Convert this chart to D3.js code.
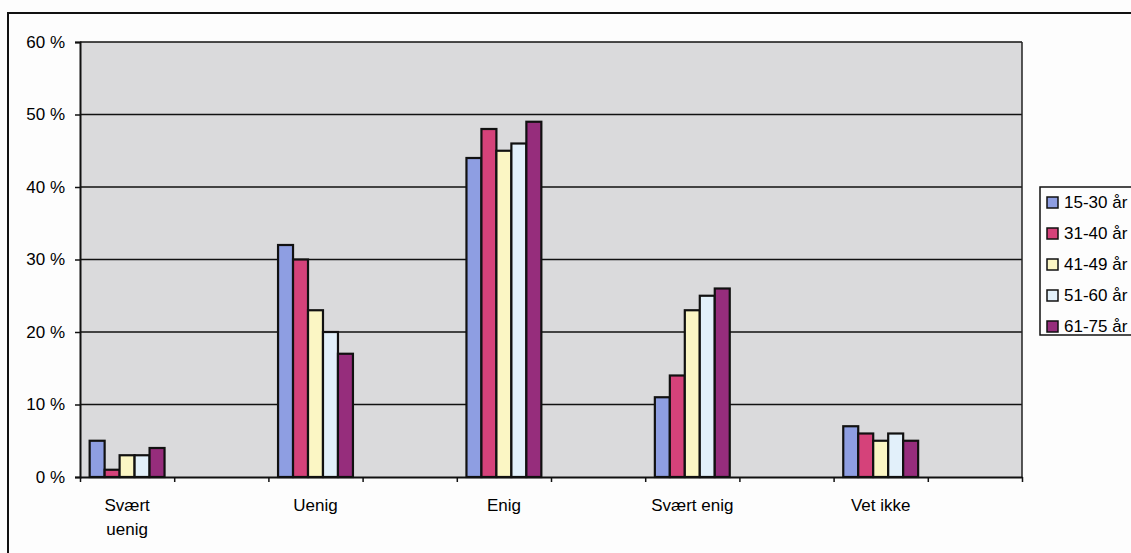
<!DOCTYPE html>
<html><head><meta charset="utf-8">
<script src="https://cdn.jsdelivr.net/npm/d3@7/dist/d3.min.js"></script>
<style>
html,body{margin:0;padding:0;background:#fdfdfd;}
svg{display:block;}
text{font-family:"Liberation Sans",Arial,sans-serif;fill:#000;}
</style></head>
<body>
<svg id="chart" width="1131" height="553"></svg>
<script>
const categories = ["Svært uenig", "Uenig", "Enig", "Svært enig", "Vet ikke"];
const seriesNames = ["15-30 år", "31-40 år", "41-49 år", "51-60 år", "61-75 år"];
const s15_30 = [5, 32, 44, 11, 7];
const s31_40 = [1, 30, 48, 14, 6];
const s41_49 = [3, 23, 45, 23, 5];
const s51_60 = [3, 20, 46, 25, 6];
const s61_75 = [4, 17, 49, 26, 5];
const yTicks = [0, 10, 20, 30, 40, 50, 60];
const colors = ["#8e9ee2", "#d5427a", "#fbf6c4", "#e2f0fa", "#962d7c"];

const series = [s15_30, s31_40, s41_49, s51_60, s61_75];
const svg = d3.select("#chart");

// outer frame
svg.append("rect").attr("x", 8).attr("y", 13).attr("width", 1200).attr("height", 600)
  .attr("fill", "#fdfdfd").attr("stroke", "#111").attr("stroke-width", 2);

const L = 80, R = 1022, T = 42, B = 477;
const nSlots = categories.length * 2;
const slot = d3.scaleBand().domain(d3.range(nSlots)).range([L, R]).paddingInner(0).paddingOuter(0);
const y = d3.scaleLinear().domain([0, 60]).range([B, T]);
const groupFrac = 0.795;
const inner = d3.scaleBand().domain(d3.range(series.length))
  .range([0, slot.bandwidth() * groupFrac]);

// plot area
svg.append("rect").attr("x", L).attr("y", T).attr("width", R - L).attr("height", B - T)
  .attr("fill", "#dadadc");

// gridlines
svg.append("g").selectAll("line").data(yTicks.filter(d => d > 0)).join("line")
  .attr("x1", L).attr("x2", R).attr("y1", d => y(d)).attr("y2", d => y(d))
  .attr("stroke", "#111").attr("stroke-width", 1.5);
// right border of plot
svg.append("line").attr("x1", R).attr("x2", R).attr("y1", T).attr("y2", B)
  .attr("stroke", "#222").attr("stroke-width", 1.5);

// bars
const gw = slot.bandwidth() * groupFrac;
categories.forEach((c, ci) => {
  const x0 = slot(ci * 2) + (slot.bandwidth() - gw) / 2;
  series.forEach((s, si) => {
    svg.append("rect")
      .attr("x", x0 + inner(si)).attr("y", y(s[ci]))
      .attr("width", inner.bandwidth()).attr("height", y(0) - y(s[ci]))
      .attr("fill", colors[si]).attr("stroke", "#111").attr("stroke-width", 2.2);
  });
});

// y axis
const yAxis = svg.append("g").attr("transform", `translate(${L},0)`)
  .call(d3.axisLeft(y).tickValues(yTicks).tickFormat(d => d + " %").tickSize(5).tickPadding(10));
yAxis.select(".domain").attr("stroke", "#111").attr("stroke-width", 2);
yAxis.selectAll(".tick line").attr("stroke", "#111").attr("stroke-width", 1.5);
yAxis.selectAll(".tick text").style("font-size", "17px").attr("fill", "#000");

// x axis with ticks between categories
const xLin = d3.scaleLinear().domain([0, nSlots]).range([L, R]);
const xAxis = svg.append("g").attr("transform", `translate(0,${B})`)
  .call(d3.axisBottom(xLin).ticks(nSlots).tickFormat("").tickSize(5).tickSizeOuter(0));
xAxis.select(".domain").attr("stroke", "#111").attr("stroke-width", 2);
xAxis.selectAll(".tick line").attr("stroke", "#111").attr("stroke-width", 1.5);

// category labels
categories.forEach((c, ci) => {
  const cx = slot(ci * 2) + slot.bandwidth() / 2;
  const words = c === "Svært uenig" ? ["Svært", "uenig"] : [c];
  const t = svg.append("text").attr("text-anchor", "middle").style("font-size", "17px");
  words.forEach((w, wi) => {
    t.append("tspan").attr("x", cx).attr("y", 511 + wi * 24).text(w);
  });
});

// legend
const lg = svg.append("g");
lg.append("rect").attr("x", 1040).attr("y", 187).attr("width", 200).attr("height", 148)
  .attr("fill", "#fdfdfd").attr("stroke", "#111").attr("stroke-width", 1.5);
seriesNames.forEach((n, i) => {
  const cy = 202 + i * 31;
  lg.append("rect").attr("x", 1047).attr("y", cy - 5).attr("width", 11).attr("height", 11)
    .attr("fill", colors[i]).attr("stroke", "#111").attr("stroke-width", 1.5);
  lg.append("text").attr("x", 1064).attr("y", cy + 6).style("font-size", "17px").text(n);
});
</script>
</body></html>
